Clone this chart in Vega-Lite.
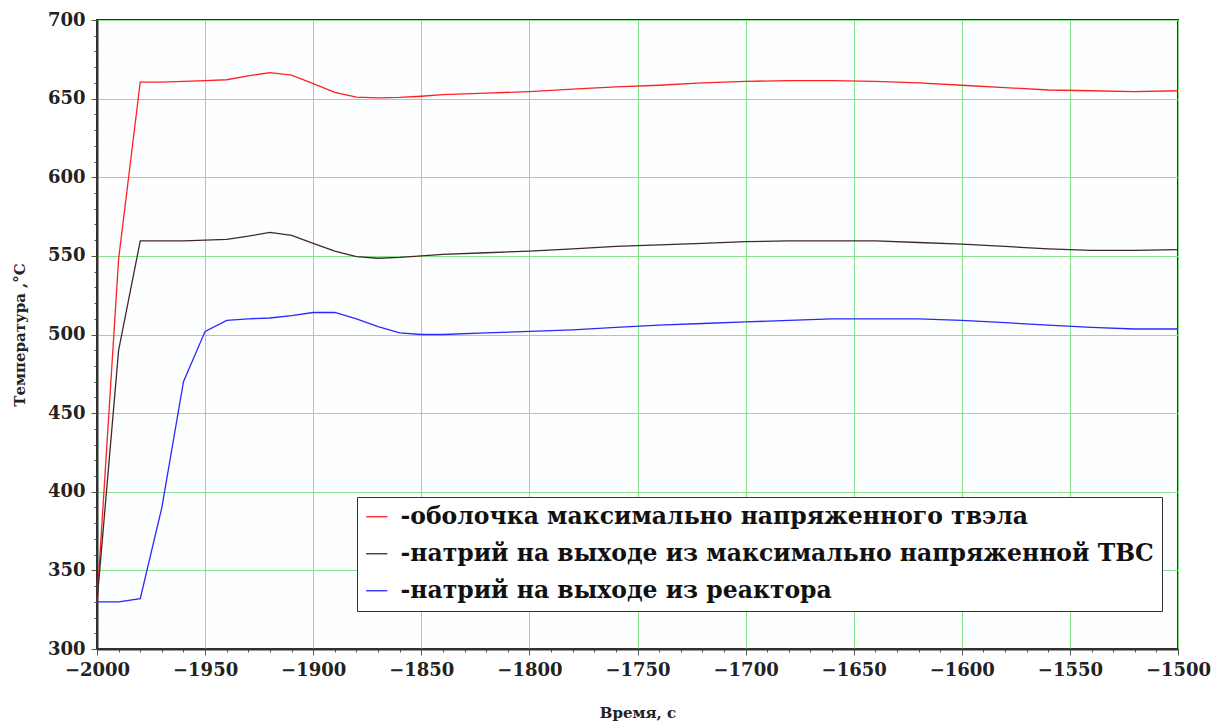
{
  "$schema": "https://vega.github.io/schema/vega-lite/v6.json",
  "width": 1081,
  "height": 629,
  "autosize": {"type": "none"},
  "padding": {"left": 97, "top": 20, "right": 44, "bottom": 74},
  "background": "white",
  "config": {
    "view": {"fill": "#fcfeff", "stroke": "#303030", "strokeWidth": 2},
    "font": "DejaVu Serif"
  },
  "datasets": {
    "d": [
      {"t": -2000, "T": 330, "s": "-оболочка максимально напряженного твэла"},
      {"t": -1990, "T": 548, "s": "-оболочка максимально напряженного твэла"},
      {"t": -1980, "T": 660.5, "s": "-оболочка максимально напряженного твэла"},
      {"t": -1970, "T": 660.5, "s": "-оболочка максимально напряженного твэла"},
      {"t": -1960, "T": 661, "s": "-оболочка максимально напряженного твэла"},
      {"t": -1950, "T": 661.5, "s": "-оболочка максимально напряженного твэла"},
      {"t": -1940, "T": 662, "s": "-оболочка максимально напряженного твэла"},
      {"t": -1930, "T": 664.5, "s": "-оболочка максимально напряженного твэла"},
      {"t": -1920, "T": 666.5, "s": "-оболочка максимально напряженного твэла"},
      {"t": -1910, "T": 665, "s": "-оболочка максимально напряженного твэла"},
      {"t": -1900, "T": 659.5, "s": "-оболочка максимально напряженного твэла"},
      {"t": -1890, "T": 654, "s": "-оболочка максимально напряженного твэла"},
      {"t": -1880, "T": 651, "s": "-оболочка максимально напряженного твэла"},
      {"t": -1870, "T": 650.5, "s": "-оболочка максимально напряженного твэла"},
      {"t": -1860, "T": 650.8, "s": "-оболочка максимально напряженного твэла"},
      {"t": -1850, "T": 651.5, "s": "-оболочка максимально напряженного твэла"},
      {"t": -1840, "T": 652.5, "s": "-оболочка максимально напряженного твэла"},
      {"t": -1820, "T": 653.5, "s": "-оболочка максимально напряженного твэла"},
      {"t": -1800, "T": 654.5, "s": "-оболочка максимально напряженного твэла"},
      {"t": -1780, "T": 656, "s": "-оболочка максимально напряженного твэла"},
      {"t": -1760, "T": 657.5, "s": "-оболочка максимально напряженного твэла"},
      {"t": -1740, "T": 658.5, "s": "-оболочка максимально напряженного твэла"},
      {"t": -1720, "T": 660, "s": "-оболочка максимально напряженного твэла"},
      {"t": -1700, "T": 661, "s": "-оболочка максимально напряженного твэла"},
      {"t": -1680, "T": 661.5, "s": "-оболочка максимально напряженного твэла"},
      {"t": -1660, "T": 661.5, "s": "-оболочка максимально напряженного твэла"},
      {"t": -1640, "T": 661, "s": "-оболочка максимально напряженного твэла"},
      {"t": -1620, "T": 660, "s": "-оболочка максимально напряженного твэла"},
      {"t": -1600, "T": 658.5, "s": "-оболочка максимально напряженного твэла"},
      {"t": -1580, "T": 657, "s": "-оболочка максимально напряженного твэла"},
      {"t": -1560, "T": 655.5, "s": "-оболочка максимально напряженного твэла"},
      {"t": -1540, "T": 655, "s": "-оболочка максимально напряженного твэла"},
      {"t": -1520, "T": 654.5, "s": "-оболочка максимально напряженного твэла"},
      {"t": -1500, "T": 655, "s": "-оболочка максимально напряженного твэла"},

      {"t": -2000, "T": 330, "s": "-натрий на выходе из максимально напряженной ТВС"},
      {"t": -1990, "T": 490, "s": "-натрий на выходе из максимально напряженной ТВС"},
      {"t": -1980, "T": 559.5, "s": "-натрий на выходе из максимально напряженной ТВС"},
      {"t": -1960, "T": 559.5, "s": "-натрий на выходе из максимально напряженной ТВС"},
      {"t": -1940, "T": 560.5, "s": "-натрий на выходе из максимально напряженной ТВС"},
      {"t": -1930, "T": 562.5, "s": "-натрий на выходе из максимально напряженной ТВС"},
      {"t": -1920, "T": 565, "s": "-натрий на выходе из максимально напряженной ТВС"},
      {"t": -1910, "T": 563, "s": "-натрий на выходе из максимально напряженной ТВС"},
      {"t": -1900, "T": 558, "s": "-натрий на выходе из максимально напряженной ТВС"},
      {"t": -1890, "T": 553, "s": "-натрий на выходе из максимально напряженной ТВС"},
      {"t": -1880, "T": 549.5, "s": "-натрий на выходе из максимально напряженной ТВС"},
      {"t": -1870, "T": 548.5, "s": "-натрий на выходе из максимально напряженной ТВС"},
      {"t": -1860, "T": 549, "s": "-натрий на выходе из максимально напряженной ТВС"},
      {"t": -1850, "T": 550, "s": "-натрий на выходе из максимально напряженной ТВС"},
      {"t": -1840, "T": 551, "s": "-натрий на выходе из максимально напряженной ТВС"},
      {"t": -1820, "T": 552, "s": "-натрий на выходе из максимально напряженной ТВС"},
      {"t": -1800, "T": 553, "s": "-натрий на выходе из максимально напряженной ТВС"},
      {"t": -1780, "T": 554.5, "s": "-натрий на выходе из максимально напряженной ТВС"},
      {"t": -1760, "T": 556, "s": "-натрий на выходе из максимально напряженной ТВС"},
      {"t": -1740, "T": 557, "s": "-натрий на выходе из максимально напряженной ТВС"},
      {"t": -1720, "T": 558, "s": "-натрий на выходе из максимально напряженной ТВС"},
      {"t": -1700, "T": 559, "s": "-натрий на выходе из максимально напряженной ТВС"},
      {"t": -1680, "T": 559.5, "s": "-натрий на выходе из максимально напряженной ТВС"},
      {"t": -1660, "T": 559.5, "s": "-натрий на выходе из максимально напряженной ТВС"},
      {"t": -1640, "T": 559.5, "s": "-натрий на выходе из максимально напряженной ТВС"},
      {"t": -1620, "T": 558.5, "s": "-натрий на выходе из максимально напряженной ТВС"},
      {"t": -1600, "T": 557.5, "s": "-натрий на выходе из максимально напряженной ТВС"},
      {"t": -1580, "T": 556, "s": "-натрий на выходе из максимально напряженной ТВС"},
      {"t": -1560, "T": 554.5, "s": "-натрий на выходе из максимально напряженной ТВС"},
      {"t": -1540, "T": 553.5, "s": "-натрий на выходе из максимально напряженной ТВС"},
      {"t": -1520, "T": 553.5, "s": "-натрий на выходе из максимально напряженной ТВС"},
      {"t": -1500, "T": 554, "s": "-натрий на выходе из максимально напряженной ТВС"},

      {"t": -2000, "T": 330, "s": "-натрий на выходе из реактора"},
      {"t": -1990, "T": 330, "s": "-натрий на выходе из реактора"},
      {"t": -1980, "T": 332, "s": "-натрий на выходе из реактора"},
      {"t": -1970, "T": 390, "s": "-натрий на выходе из реактора"},
      {"t": -1960, "T": 470, "s": "-натрий на выходе из реактора"},
      {"t": -1950, "T": 502, "s": "-натрий на выходе из реактора"},
      {"t": -1940, "T": 509, "s": "-натрий на выходе из реактора"},
      {"t": -1930, "T": 510, "s": "-натрий на выходе из реактора"},
      {"t": -1920, "T": 510.5, "s": "-натрий на выходе из реактора"},
      {"t": -1910, "T": 512, "s": "-натрий на выходе из реактора"},
      {"t": -1900, "T": 514, "s": "-натрий на выходе из реактора"},
      {"t": -1890, "T": 514, "s": "-натрий на выходе из реактора"},
      {"t": -1880, "T": 510, "s": "-натрий на выходе из реактора"},
      {"t": -1870, "T": 505, "s": "-натрий на выходе из реактора"},
      {"t": -1860, "T": 501, "s": "-натрий на выходе из реактора"},
      {"t": -1850, "T": 500, "s": "-натрий на выходе из реактора"},
      {"t": -1840, "T": 500, "s": "-натрий на выходе из реактора"},
      {"t": -1820, "T": 501, "s": "-натрий на выходе из реактора"},
      {"t": -1800, "T": 502, "s": "-натрий на выходе из реактора"},
      {"t": -1780, "T": 503, "s": "-натрий на выходе из реактора"},
      {"t": -1760, "T": 504.5, "s": "-натрий на выходе из реактора"},
      {"t": -1740, "T": 506, "s": "-натрий на выходе из реактора"},
      {"t": -1720, "T": 507, "s": "-натрий на выходе из реактора"},
      {"t": -1700, "T": 508, "s": "-натрий на выходе из реактора"},
      {"t": -1680, "T": 509, "s": "-натрий на выходе из реактора"},
      {"t": -1660, "T": 510, "s": "-натрий на выходе из реактора"},
      {"t": -1640, "T": 510, "s": "-натрий на выходе из реактора"},
      {"t": -1620, "T": 510, "s": "-натрий на выходе из реактора"},
      {"t": -1600, "T": 509, "s": "-натрий на выходе из реактора"},
      {"t": -1580, "T": 507.5, "s": "-натрий на выходе из реактора"},
      {"t": -1560, "T": 506, "s": "-натрий на выходе из реактора"},
      {"t": -1540, "T": 504.5, "s": "-натрий на выходе из реактора"},
      {"t": -1520, "T": 503.5, "s": "-натрий на выходе из реактора"},
      {"t": -1500, "T": 503.5, "s": "-натрий на выходе из реактора"}
    ]
  },
  "data": {"name": "d"},
  "mark": {"type": "line", "strokeWidth": 1.3, "interpolate": "linear"},
  "encoding": {
    "x": {
      "field": "t", "type": "quantitative",
      "scale": {"domain": [-2000, -1500], "nice": false, "zero": false},
      "axis": {
        "title": "Время, с",
        "titleFont": "DejaVu Serif", "titleFontWeight": "bold", "titleFontSize": 15, "titleColor": "#222",
        "titlePadding": 26,
        "format": "d",
        "values": [-2000,-1990,-1980,-1970,-1960,-1950,-1940,-1930,-1920,-1910,-1900,-1890,-1880,-1870,-1860,-1850,-1840,-1830,-1820,-1810,-1800,-1790,-1780,-1770,-1760,-1750,-1740,-1730,-1720,-1710,-1700,-1690,-1680,-1670,-1660,-1650,-1640,-1630,-1620,-1610,-1600,-1590,-1580,-1570,-1560,-1550,-1540,-1530,-1520,-1510,-1500],
        "labelExpr": "datum.value % 50 === 0 ? datum.label : ''",
        "labelFont": "DejaVu Serif", "labelFontWeight": "bold", "labelFontSize": 18, "labelColor": "#222",
        "labelPadding": 6, "labelFlush": false, "labelOverlap": false,
        "grid": true, "gridColor": "#88e488", "gridWidth": 1,
        "gridOpacity": {"condition": {"test": "datum.value % 50 === 0", "value": 1}, "value": 0},
        "tickColor": "#555",
        "tickSize": {"condition": {"test": "datum.value % 50 === 0", "value": 6}, "value": 3},
        "domainColor": "#303030", "domainWidth": 2
      }
    },
    "y": {
      "field": "T", "type": "quantitative",
      "scale": {"domain": [300, 700], "nice": false, "zero": false},
      "axis": {
        "title": "Температура ,°C",
        "titleFont": "DejaVu Serif", "titleFontWeight": "bold", "titleFontSize": 15, "titleColor": "#222",
        "titlePadding": 20,
        "format": "d",
        "values": [300,310,320,330,340,350,360,370,380,390,400,410,420,430,440,450,460,470,480,490,500,510,520,530,540,550,560,570,580,590,600,610,620,630,640,650,660,670,680,690,700],
        "labelExpr": "datum.value % 50 === 0 ? datum.label : ''",
        "labelFont": "DejaVu Serif", "labelFontWeight": "bold", "labelFontSize": 18, "labelColor": "#222",
        "labelPadding": 6, "labelFlush": false, "labelOverlap": false,
        "grid": true, "gridColor": "#88e488", "gridWidth": 1,
        "gridOpacity": {"condition": {"test": "datum.value % 50 === 0", "value": 1}, "value": 0},
        "tickColor": "#555",
        "tickSize": {"condition": {"test": "datum.value % 50 === 0", "value": 6}, "value": 3},
        "domainColor": "#303030", "domainWidth": 2
      }
    },
    "color": {
      "field": "s", "type": "nominal",
      "scale": {
        "domain": ["-оболочка максимально напряженного твэла", "-натрий на выходе из максимально напряженной ТВС", "-натрий на выходе из реактора"],
        "range": ["#ff2020", "#402828", "#2828ff"]
      },
      "legend": {
        "title": null,
        "orient": "none", "legendX": 260, "legendY": 477,
        "direction": "vertical",
        "fillColor": "white", "strokeColor": "#333",
        "padding": 8,
        "symbolType": "stroke", "symbolSize": 450, "symbolStrokeWidth": 1.3,
        "labelFont": "DejaVu Serif", "labelFontWeight": "bold", "labelFontSize": 23.5, "labelColor": "#111",
        "labelLimit": 2000, "labelOffset": 12, "rowPadding": 12
      }
    }
  }
}
